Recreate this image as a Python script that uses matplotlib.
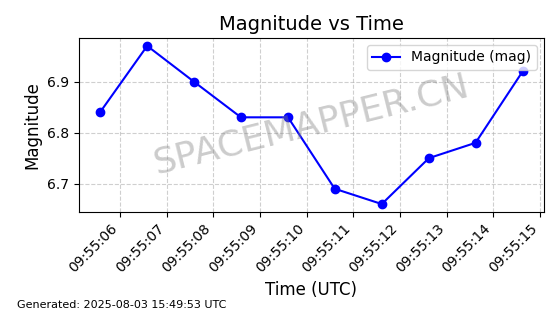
import numpy as np
import pandas as pd
import matplotlib
matplotlib.use("Agg")
import matplotlib.pyplot as plt
import matplotlib.dates as mdates

times = ["2025-08-03 09:55:05.57", "2025-08-03 09:55:06.58", "2025-08-03 09:55:07.58",
         "2025-08-03 09:55:08.59", "2025-08-03 09:55:09.60", "2025-08-03 09:55:10.60",
         "2025-08-03 09:55:11.61", "2025-08-03 09:55:12.62", "2025-08-03 09:55:13.62",
         "2025-08-03 09:55:14.63"]
magnitude = [6.84, 6.97, 6.90, 6.83, 6.83, 6.69, 6.66, 6.75, 6.78, 6.92]
generated = "Generated: 2025-08-03 15:49:53 UTC"

t = pd.to_datetime(times)

fig, ax = plt.subplots(figsize=(5.6, 3.14), dpi=100)
ax.plot(t, magnitude, marker='o', color='blue', linewidth=1.5, markersize=6,
        label='Magnitude (mag)')
ax.set_title('Magnitude vs Time', fontsize=14)
ax.set_xlabel('Time (UTC)', fontsize=12)
ax.set_ylabel('Magnitude', fontsize=12)
ax.xaxis.set_major_locator(mdates.SecondLocator())
ax.xaxis.set_major_formatter(mdates.DateFormatter('%H:%M:%S'))
plt.setp(ax.get_xticklabels(), rotation=45, ha='right')
ax.grid(True, linestyle='--', alpha=0.6)
ax.legend(loc='upper right')
ax.text(0.5, 0.5, 'SPACEMAPPER.CN', transform=ax.transAxes, fontsize=26,
        color='gray', alpha=0.4, rotation=14, ha='center', va='center')
fig.text(0.03, 0.02, generated, fontsize=8)
fig.subplots_adjust(left=0.141, right=0.971, top=0.879, bottom=0.325)
fig.savefig('out.png')
